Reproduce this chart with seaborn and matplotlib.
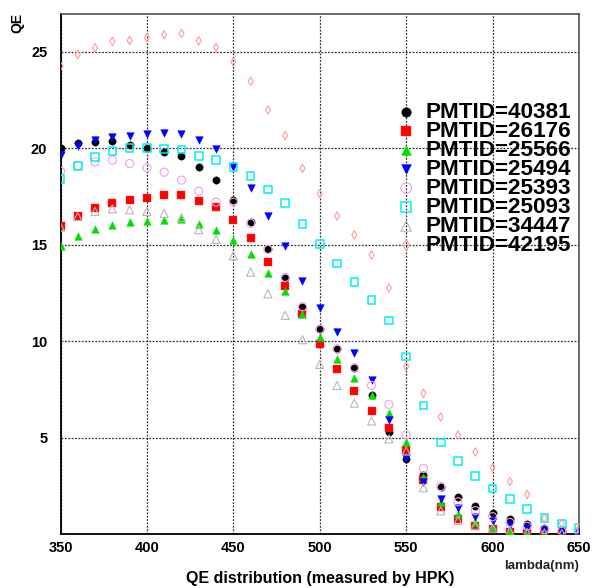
import matplotlib
matplotlib.use("Agg")
import matplotlib.pyplot as plt
import seaborn as sns
import pandas as pd

# ---------------- data ----------------
wavelength = list(range(350, 651, 10))

qe_40381 = [20.0, 20.29, 20.33, 20.35, 20.15, 19.98, 19.82, 19.6, 19.03, 18.34, 17.31,
            16.18, 14.77, 13.29, 11.75, 10.6, 9.57, 8.59, 7.2, 5.3, 3.89,
            3.06, 2.42, 1.92, 1.45, 1.07, 0.77, 0.5, 0.3, 0.18, 0.1]
qe_26176 = [15.96, 16.48, 16.87, 17.18, 17.3, 17.39, 17.58, 17.57, 17.27, 16.96, 16.27,
            15.36, 14.11, 12.87, 11.38, 9.84, 8.54, 7.43, 6.4, 5.5, 4.35,
            2.8, 1.42, 0.8, 0.42, 0.24, 0.12, 0.06, 0.03, 0.02, 0.01]
qe_25566 = [14.93, 15.42, 15.79, 16.04, 16.17, 16.24, 16.27, 16.3, 16.05, 15.75, 15.23,
            14.49, 13.54, 12.61, 11.38, 10.2, 9.05, 8.07, 7.18, 6.25, 4.78,
            2.95, 1.65, 1.05, 0.62, 0.38, 0.15, 0.06, 0.03, 0.02, 0.01]
qe_25494 = [19.62, 20.1, 20.4, 20.59, 20.65, 20.71, 20.79, 20.75, 20.4, 19.94, 19.03,
            17.92, 16.48, 14.93, 13.12, 11.7, 10.45, 9.36, 7.99, 5.93, 3.95,
            2.71, 1.83, 1.33, 0.9, 0.65, 0.45, 0.3, 0.2, 0.14, 0.1]
qe_25393 = [18.8, 19.1, 19.28, 19.38, 19.2, 18.98, 18.75, 18.34, 17.77, 17.2, 17.2,
            16.1, 14.75, 13.3, 11.78, 10.62, 9.6, 8.62, 7.7, 6.72, 5.13,
            3.4, 2.46, 1.67, 1.21, 0.9, 0.6, 0.4, 0.25, 0.15, 0.1]
qe_25093 = [18.39, 19.08, 19.55, 19.86, 19.99, 19.99, 19.95, 19.92, 19.6, 19.37, 19.03,
            18.56, 17.85, 17.16, 16.07, 15.03, 14.02, 13.06, 12.14, 11.07, 9.19,
            6.65, 4.75, 3.79, 3.0, 2.35, 1.8, 1.28, 0.83, 0.55, 0.32]
qe_34447 = [15.9, 16.45, 16.72, 16.85, 16.8, 16.72, 16.62, 16.4, 15.77, 15.27, 14.42,
            13.57, 12.45, 11.33, 10.07, 8.79, 7.7, 6.78, 5.86, 4.93, 4.3,
            2.4, 1.2, 0.7, 0.45, 0.3, 0.15, 0.08, 0.05, 0.03, 0.02]
qe_42195 = [24.25, 24.85, 25.2, 25.53, 25.58, 25.73, 25.87, 25.94, 25.56, 25.22, 24.46,
            23.47, 21.97, 20.66, 18.95, 17.65, 16.48, 15.5, 14.46, 12.75, 8.67,
            7.29, 6.06, 5.13, 4.25, 3.45, 2.72, 2.05, 0.82, 0.55, 0.3]

labels = ["PMTID=40381", "PMTID=26176", "PMTID=25566", "PMTID=25494",
          "PMTID=25393", "PMTID=25093", "PMTID=34447", "PMTID=42195"]
values = [qe_40381, qe_26176, qe_25566, qe_25494, qe_25393, qe_25093, qe_34447, qe_42195]

x_ticks = [350, 400, 450, 500, 550, 600, 650]
y_ticks = [5, 10, 15, 20, 25]

# ---------------- styles ----------------
styles = [
    dict(marker="o", s=28, color="black", facecolor="black", edgecolor="black", linewidth=0.3),
    dict(marker="s", s=26, color="red", facecolor="red", edgecolor="#ff3333", linewidth=0.3),
    dict(marker="^", s=30, color="#00e000", facecolor="#00e000", edgecolor="#00e000", linewidth=0.3),
    dict(marker="v", s=30, color="blue", facecolor="blue", edgecolor="blue", linewidth=0.3),
    dict(marker="o", s=34, color="#f0a0f0", facecolor="none", edgecolor="#f0a0f0", linewidth=0.8),
    dict(marker="s", s=30, color="#00ffff", facecolor="none", edgecolor="#00f0f0", linewidth=1.1),
    dict(marker="^", s=34, color="#b8b8b8", facecolor="none", edgecolor="#b8b8b8", linewidth=0.8),
    dict(marker="d", s=18, color="#ff9a9a", facecolor="none", edgecolor="#ff9a9a", linewidth=0.8),
]

sns.set_style("white")
plt.rcParams["font.family"] = ["Liberation Sans", "DejaVu Sans"]
plt.rcParams["font.weight"] = "bold"
plt.rcParams["text.color"] = "black"
plt.rcParams["axes.labelcolor"] = "black"
plt.rcParams["xtick.color"] = "black"
plt.rcParams["ytick.color"] = "black"

fig = plt.figure(figsize=(5.92, 5.88), dpi=100)
ax = fig.add_axes([60.5 / 592, 1 - 534 / 588, (579 - 60.5) / 592, (534 - 14) / 588])

for lab, vals, st in zip(labels, values, styles):
    df = pd.DataFrame({"wavelength": wavelength, "QE": vals})
    sns.scatterplot(data=df, x="wavelength", y="QE", ax=ax, label=lab, zorder=3, **st)

ax.set_xlim(350, 650)
ax.set_ylim(0, 26.95)
ax.set_xticks(x_ticks)
ax.set_yticks(y_ticks)
ax.set_xticks(list(range(350, 651, 10)), minor=True)
ax.set_yticks(list(range(0, 27, 1)), minor=True)
ax.tick_params(axis="both", which="major", direction="in", length=8, width=1.0,
               labelsize=10.5, colors="black")
ax.tick_params(axis="both", which="minor", direction="in", length=4.5, width=1.0,
               colors="black")
ax.tick_params(axis="y", which="major", pad=9.5)
ax.tick_params(axis="x", which="major", pad=5)
for lbl in ax.get_xticklabels() + ax.get_yticklabels():
    lbl.set_fontweight("bold")

ax.grid(True, which="major", color="#333333", linestyle=(0, (1.5, 1.2)), linewidth=0.9)
ax.set_axisbelow(True)
for side in ["left", "bottom"]:
    ax.spines[side].set_linewidth(1.3)
    ax.spines[side].set_color("black")
for side in ["right", "top"]:
    ax.spines[side].set_linewidth(1.1)
    ax.spines[side].set_color("#444444")

ax.set_xlabel("")
ax.set_ylabel("")

fig.text(17 / 592, 1 - 13 / 588, "QE", rotation=90, ha="center", va="top",
         fontsize=10, fontweight="bold", color="black")
fig.text(579 / 592, 1 - 566 / 588, "lambda(nm)", ha="right", va="center",
         fontsize=9.5, fontweight="bold", color="#222222")
fig.text(320 / 592, 1 - 579 / 588, "QE distribution (measured by HPK)", ha="center",
         va="center", fontsize=11.5, fontweight="bold", color="black")

leg = ax.legend(loc="upper left", bbox_to_anchor=(397.4 / 592, 1 - 102 / 588),
                bbox_transform=fig.transFigure, frameon=False,
                prop={"family": ["Liberation Sans"], "weight": "bold", "size": 16.2},
                handlelength=0.78, handletextpad=0.48, labelspacing=-0.09,
                borderpad=0, borderaxespad=0, scatterpoints=1, markerscale=1.3,
                labelcolor="black")

fig.savefig("out.png", dpi=100)
